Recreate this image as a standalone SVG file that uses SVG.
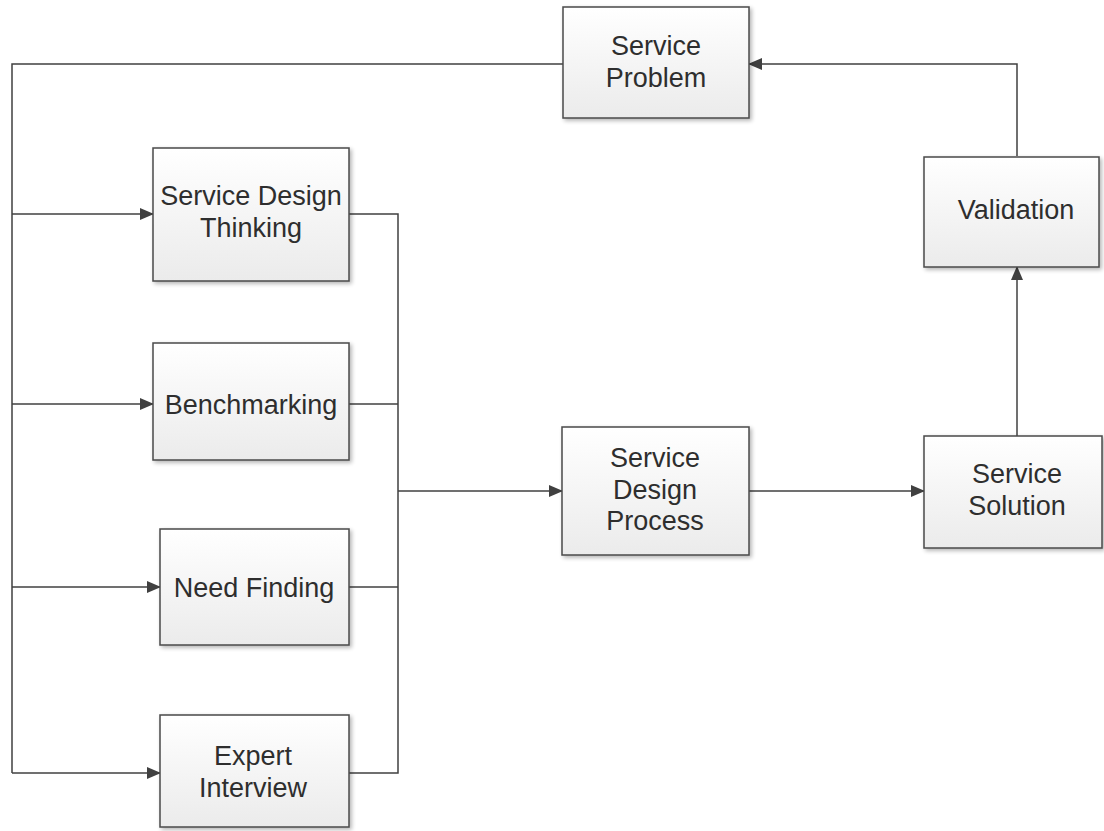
<svg xmlns="http://www.w3.org/2000/svg" width="1104" height="831" viewBox="0 0 1104 831">
<defs>
<linearGradient id="g" x1="0" y1="0" x2="0" y2="1">
<stop offset="0" stop-color="#ffffff"/>
<stop offset="1" stop-color="#ebebeb"/>
</linearGradient>
<filter id="sh" x="-10%" y="-10%" width="130%" height="130%">
<feGaussianBlur in="SourceAlpha" stdDeviation="2"/>
<feOffset dx="2" dy="2" result="b"/>
<feComponentTransfer><feFuncA type="linear" slope="0.3"/></feComponentTransfer>
<feMerge><feMergeNode/><feMergeNode in="SourceGraphic"/></feMerge>
</filter>
<marker id="ah" markerWidth="14" markerHeight="12" refX="13" refY="6" orient="auto" markerUnits="userSpaceOnUse">
<path d="M0,0 L14,6 L0,12 Z" fill="#404040"/>
</marker>
</defs>
<style>
.box{fill:url(#g);stroke:#4a4a4a;stroke-width:1.5;filter:url(#sh)}
.t{font-family:"Liberation Sans",Arial,sans-serif;font-size:27px;fill:#2e2e2e;text-anchor:middle}
.c{fill:none;stroke:#404040;stroke-width:1.5}
</style>
<rect width="1104" height="831" fill="#ffffff"/>
<g id="connectors">
<polyline class="c" points="563,64 12,64 12,773"/>
<line class="c" x1="12" y1="214" x2="153" y2="214" marker-end="url(#ah)"/>
<line class="c" x1="12" y1="404" x2="153" y2="404" marker-end="url(#ah)"/>
<line class="c" x1="12" y1="587" x2="160" y2="587" marker-end="url(#ah)"/>
<line class="c" x1="12" y1="773" x2="160" y2="773" marker-end="url(#ah)"/>
<polyline class="c" points="349,214 398,214 398,773 349,773"/>
<line class="c" x1="349" y1="404" x2="398" y2="404"/>
<line class="c" x1="349" y1="587" x2="398" y2="587"/>
<line class="c" x1="398" y1="491" x2="562" y2="491" marker-end="url(#ah)"/>
<line class="c" x1="749" y1="491" x2="924" y2="491" marker-end="url(#ah)"/>
<line class="c" x1="1017" y1="436" x2="1017" y2="267" marker-end="url(#ah)"/>
<polyline class="c" points="1017,156 1017,64 749,64" marker-end="url(#ah)"/>
</g>
<g id="service-problem">
<rect class="box" x="563" y="7" width="186" height="111"/>
<text class="t" x="656" y="55">Service</text>
<text class="t" x="656" y="87">Problem</text>
</g>
<g id="service-design-thinking">
<rect class="box" x="153" y="148" width="196" height="133"/>
<text class="t" x="251" y="205">Service Design</text>
<text class="t" x="251" y="237">Thinking</text>
</g>
<g id="benchmarking">
<rect class="box" x="153" y="343" width="196" height="117"/>
<text class="t" x="251" y="414">Benchmarking</text>
</g>
<g id="need-finding">
<rect class="box" x="160" y="529" width="189" height="116"/>
<text class="t" x="254" y="597">Need Finding</text>
</g>
<g id="expert-interview">
<rect class="box" x="160" y="715" width="189" height="112"/>
<text class="t" x="253" y="765">Expert</text>
<text class="t" x="253" y="797">Interview</text>
</g>
<g id="service-design-process">
<rect class="box" x="562" y="427" width="187" height="128"/>
<text class="t" x="655" y="467">Service</text>
<text class="t" x="655" y="499">Design</text>
<text class="t" x="655" y="530">Process</text>
</g>
<g id="validation">
<rect class="box" x="924" y="157" width="175" height="110"/>
<text class="t" x="1016" y="219">Validation</text>
</g>
<g id="service-solution">
<rect class="box" x="924" y="436" width="178" height="112"/>
<text class="t" x="1017" y="483">Service</text>
<text class="t" x="1017" y="515">Solution</text>
</g>
</svg>
